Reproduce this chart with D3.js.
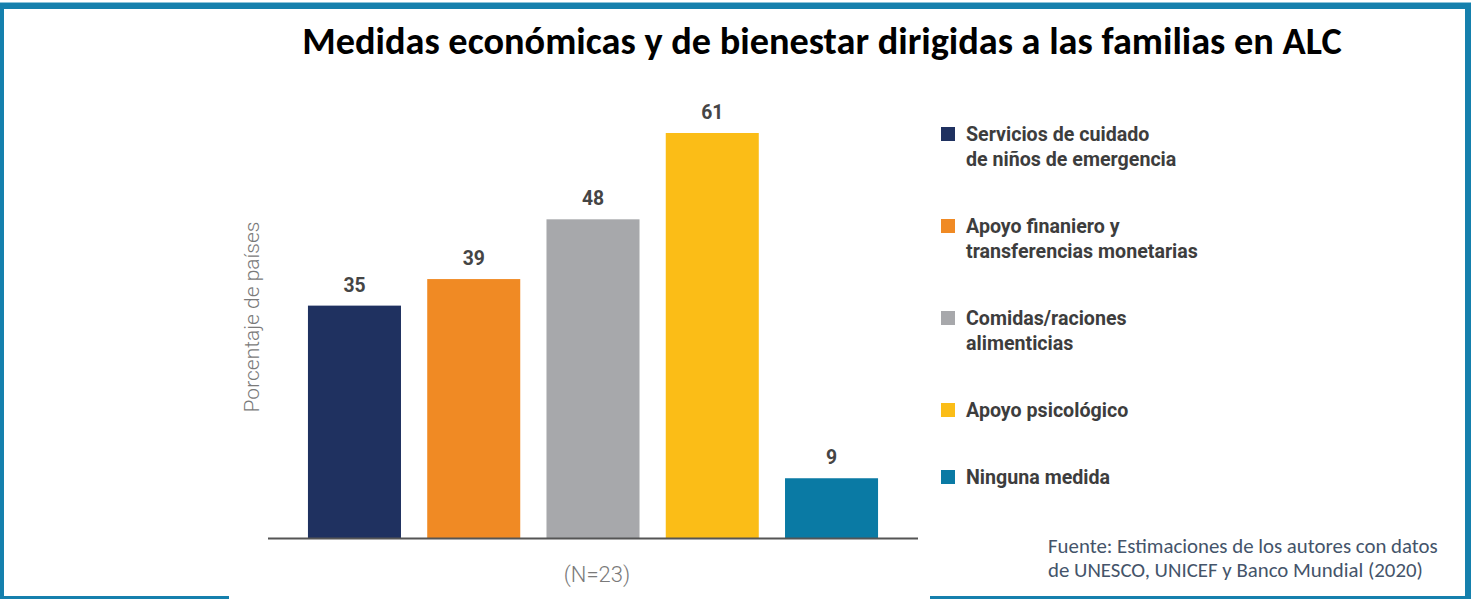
<!DOCTYPE html>
<html>
<head>
<meta charset="utf-8">
<script src="https://cdn.jsdelivr.net/npm/d3@7"></script>
<style>
  html, body { margin: 0; padding: 0; background: #fff; }
  svg { display: block; }
</style>
</head>
<body>
<div id="chart"></div>
<script>
// Data
const categories = [
    ['Servicios de cuidado', 'de niños de emergencia'],
    ['Apoyo finaniero y', 'transferencias monetarias'],
    ['Comidas/raciones', 'alimenticias'],
    ['Apoyo psicológico'],
    ['Ninguna medida']
];
const values = [35, 39, 48, 61, 9];
const barColors = ['#1f3160', '#f08a24', '#a7a8ab', '#fbbd17', '#0a7aa4'];
const titleText = 'Medidas económicas y de bienestar dirigidas a las familias en ALC';
const yAxisLabel = 'Porcentaje de países';
const xAxisLabel = '(N=23)';
const sourceLines = [
    'Fuente: Estimaciones de los autores con datos',
    'de UNESCO, UNICEF y Banco Mundial (2020)'
];

const width = 1473, height = 599;

const svg = d3.select('#chart')
    .append('svg')
    .attr('width', width)
    .attr('height', height);

svg.append('rect')
    .attr('width', width)
    .attr('height', height)
    .attr('fill', '#fff');

// Frame (the chart picture sits over the bottom edge)
const frame = svg.append('g').attr('fill', '#1580ad');
frame.append('rect').attr('x', 0).attr('y', 2).attr('width', 1471).attr('height', 1).attr('fill', '#8cc3da');
frame.append('rect').attr('x', 0).attr('y', 3).attr('width', 1471).attr('height', 6);
frame.append('rect').attr('x', 0).attr('y', 3).attr('width', 4).attr('height', 596);
frame.append('rect').attr('x', 1465).attr('y', 3).attr('width', 6).attr('height', 596);
frame.append('rect').attr('x', 0).attr('y', 596).attr('width', 229).attr('height', 3);
frame.append('rect').attr('x', 930).attr('y', 596).attr('width', 541).attr('height', 3);

// helper: squeeze text horizontally
function squeeze(sel, factor) {
    sel.each(function() {
        const w = this.getComputedTextLength();
        d3.select(this)
            .attr('textLength', w * factor)
            .attr('lengthAdjust', 'spacingAndGlyphs');
    });
}

// helper: pick font size so the text spans a given width
function fitSize(sel, target) {
    sel.each(function() {
        const fs = parseFloat(d3.select(this).style('font-size'));
        const w = this.getComputedTextLength();
        d3.select(this).style('font-size', (fs * target / w) + 'px');
    });
}

// Title
const title = svg.append('text')
    .attr('x', 822)
    .attr('y', 54)
    .attr('text-anchor', 'middle')
    .style('font-family', 'Calibri, Carlito, Lato, sans-serif')
    .style('font-weight', 700)
    .style('font-size', '32px')
    .style('fill', '#000')
    .text(titleText);
fitSize(title, 1040);

// Scales
const x = d3.scaleBand()
    .domain(d3.range(values.length))
    .range([268, 918])
    .paddingInner(0.22)
    .paddingOuter(0.335);

const y = d3.scaleLinear()
    .domain([0, 61])
    .range([538, 133]);

const color = d3.scaleOrdinal()
    .domain(d3.range(values.length))
    .range(barColors);

// Bars
svg.append('g')
    .selectAll('rect')
    .data(values)
    .join('rect')
    .attr('x', (d, i) => x(i))
    .attr('y', d => y(d))
    .attr('width', x.bandwidth())
    .attr('height', d => y(0) - y(d))
    .attr('fill', (d, i) => color(i));

// Value labels
const valueLabels = svg.append('g')
    .selectAll('text')
    .data(values)
    .join('text')
    .attr('x', (d, i) => x(i) + x.bandwidth() / 2)
    .attr('y', d => y(d) - 14)
    .attr('text-anchor', 'middle')
    .style('font-family', 'Roboto, sans-serif')
    .style('font-weight', 700)
    .style('font-size', '21px')
    .style('fill', '#454545')
    .text(d => d);
squeeze(valueLabels, 0.92);

// Baseline
svg.append('line')
    .attr('x1', 268)
    .attr('x2', 918)
    .attr('y1', y(0) + 0.5)
    .attr('y2', y(0) + 0.5)
    .attr('stroke', '#555')
    .attr('stroke-width', 2);

// Axis titles
svg.append('text')
    .attr('transform', 'translate(259,317) rotate(-90)')
    .attr('text-anchor', 'middle')
    .style('font-family', 'Roboto, sans-serif')
    .style('font-weight', 300)
    .style('font-size', '21px')
    .style('fill', '#7a7a7a')
    .text(yAxisLabel);

svg.append('text')
    .attr('x', 597)
    .attr('y', 582)
    .attr('text-anchor', 'middle')
    .style('font-family', 'Roboto, sans-serif')
    .style('font-weight', 300)
    .style('font-size', '22px')
    .style('fill', '#7a7a7a')
    .text(xAxisLabel);

// Legend
const legend = svg.append('g').attr('class', 'legend');
let ly = 127;
categories.forEach((lines, i) => {
    const item = legend.append('g').attr('transform', `translate(941,${ly})`);
    item.append('rect')
        .attr('width', 14)
        .attr('height', 14)
        .attr('fill', color(i));
    const txt = item.selectAll('text')
        .data(lines)
        .join('text')
        .attr('x', 25)
        .attr('y', (d, j) => 14 + j * 25)
        .style('font-family', 'Roboto, sans-serif')
        .style('font-weight', 700)
        .style('font-size', '21px')
        .style('fill', '#3d3d3d')
        .text(d => d);
    squeeze(txt, 0.935);
    ly += lines.length * 25 + 42;
});

// Source note
const source = svg.append('g')
    .selectAll('text')
    .data(sourceLines)
    .join('text')
    .attr('x', 1048)
    .attr('y', (d, i) => 553 + i * 24)
    .style('font-family', 'Calibri, Carlito, "Open Sans", sans-serif')
    .style('font-size', '17px')
    .style('fill', '#44546a')
    .text(d => d);
source.filter((d, i) => i === 0).call(s => fitSize(s, 390));
source.filter((d, i) => i === 1).style('font-size', source.filter((d, i) => i === 0).style('font-size'));
</script>
</body>
</html>
